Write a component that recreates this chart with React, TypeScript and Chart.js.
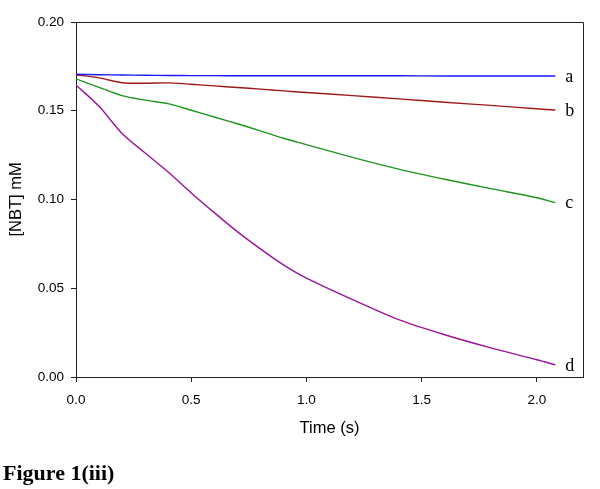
import React, { useEffect, useRef } from "react";
import { Chart, registerables } from "chart.js";

Chart.register(...registerables);

// Time points (s)
const timePoints = [0, 0.1, 0.2, 0.3, 0.4, 0.5, 0.6, 0.7, 0.8, 0.9, 1.0, 1.2, 1.4, 1.6, 1.8, 2.0, 2.08];

// [NBT] (mM) for each curve
const seriesA = [0.1706, 0.1703, 0.1701, 0.17, 0.1699, 0.1698, 0.1698, 0.1697, 0.1697, 0.1697, 0.1697, 0.1697, 0.1697, 0.1696, 0.1696, 0.1696, 0.1696];
const seriesB = [0.1703, 0.1685, 0.1658, 0.1655, 0.1657, 0.1649, 0.164, 0.1631, 0.1622, 0.1612, 0.1603, 0.1585, 0.1567, 0.1548, 0.153, 0.1511, 0.1504];
const seriesC = [0.168, 0.1632, 0.1585, 0.156, 0.154, 0.1503, 0.1465, 0.1427, 0.1387, 0.1345, 0.1309, 0.1237, 0.1171, 0.1114, 0.1061, 0.101, 0.0982];
const seriesD = [0.1645, 0.1525, 0.1372, 0.1262, 0.1155, 0.1037, 0.0926, 0.0819, 0.0722, 0.0632, 0.0557, 0.0436, 0.0323, 0.0238, 0.0164, 0.0097, 0.0068];

const seriesLabels = ["a", "b", "c", "d"];
const seriesColors = ["#1a1aff", "#a01818", "#1f961f", "#9a149a"];

const xTicks = [0, 0.5, 1.0, 1.5, 2.0];
const yTicks = [0, 0.05, 0.1, 0.15, 0.2];

const xTitle = "Time (s)";
const yTitle = "[NBT] mM";
const caption = "Figure 1(iii)";

const W = 600;
const H = 489;

export default function App() {
  const ref = useRef<HTMLCanvasElement | null>(null);

  useEffect(() => {
    const canvas = ref.current;
    if (!canvas) return;
    const allSeries = [seriesA, seriesB, seriesC, seriesD];

    const framePlugin = {
      id: "framePlugin",
      afterDraw(chart: any) {
        const { ctx, chartArea } = chart;
        ctx.save();
        ctx.strokeStyle = "#222";
        ctx.lineWidth = 1;
        ctx.beginPath();
        ctx.moveTo(chartArea.left, chartArea.top + 0.5);
        ctx.lineTo(chartArea.right + 0.5, chartArea.top + 0.5);
        ctx.lineTo(chartArea.right + 0.5, chartArea.bottom);
        ctx.stroke();

        // curve labels next to each line end
        const xs = chart.scales.x;
        const ys = chart.scales.y;
        ctx.fillStyle = "#000";
        ctx.font = "18px 'Liberation Serif', 'Times New Roman', serif";
        ctx.textAlign = "left";
        ctx.textBaseline = "middle";
        allSeries.forEach((s, i) => {
          const lx = xs.getPixelForValue(timePoints[timePoints.length - 1]);
          const ly = ys.getPixelForValue(s[s.length - 1]);
          ctx.fillText(seriesLabels[i], lx + 10, ly + 1);
        });

        // caption
        ctx.font = "bold 22px 'Liberation Serif', 'Times New Roman', serif";
        ctx.textBaseline = "alphabetic";
        ctx.fillText(caption, 3, 480);
        ctx.restore();
      },
    };

    const chart = new Chart(canvas, {
      type: "line",
      data: {
        datasets: allSeries.map((s, i) => ({
          label: seriesLabels[i],
          data: timePoints.map((t, j) => ({ x: t, y: s[j] })),
          borderColor: seriesColors[i],
          borderWidth: 1.4,
          pointRadius: 0,
          fill: false,
          tension: 0.3,
        })),
      },
      options: {
        animation: false,
        responsive: false,
        maintainAspectRatio: false,
        layout: { padding: { left: 0, top: 22, right: 17, bottom: 0 } },
        plugins: {
          legend: { display: false },
          tooltip: { enabled: false },
        },
        scales: {
          x: {
            type: "linear",
            min: 0,
            max: 2.2,
            afterFit(scale: any) {
              scale.height = H - 377;
            },
            afterBuildTicks(scale: any) {
              scale.ticks = xTicks.map((v) => ({ value: v }));
            },
            ticks: {
              color: "#000",
              font: { family: "'Liberation Sans', Arial, sans-serif", size: 13.5 },
              padding: 10,
              maxRotation: 0,
              callback: (v: any) => Number(v).toFixed(1),
            },
            grid: {
              drawOnChartArea: false,
              drawTicks: true,
              tickLength: 5,
              tickColor: "#222",
              color: "#222",
            },
            border: { display: true, color: "#222", width: 1 },
            title: {
              display: true,
              text: xTitle,
              color: "#000",
              font: { family: "'Liberation Sans', Arial, sans-serif", size: 16.5 },
              padding: { top: 0, bottom: 51 },
            },
          },
          y: {
            type: "linear",
            min: 0,
            max: 0.2,
            afterFit(scale: any) {
              scale.width = 76;
            },
            afterBuildTicks(scale: any) {
              scale.ticks = yTicks.map((v) => ({ value: v }));
            },
            ticks: {
              color: "#000",
              font: { family: "'Liberation Sans', Arial, sans-serif", size: 13.5 },
              padding: 7,
              callback: (v: any) => Number(v).toFixed(2),
            },
            grid: {
              drawOnChartArea: false,
              drawTicks: true,
              tickLength: 5,
              tickColor: "#222",
              color: "#222",
            },
            border: { display: true, color: "#222", width: 1 },
            title: {
              display: true,
              text: yTitle,
              color: "#000",
              font: { family: "'Liberation Sans', Arial, sans-serif", size: 16.5 },
              padding: { top: 7, bottom: 0 },
            },
          },
        },
      },
      plugins: [framePlugin],
    });

    return () => chart.destroy();
  }, []);

  return (
    <div style={{ position: "fixed", left: 0, top: 0, width: W, height: H, background: "#fff" }}>
      <canvas ref={ref} width={W} height={H} style={{ width: W, height: H, display: "block" }} />
    </div>
  );
}
